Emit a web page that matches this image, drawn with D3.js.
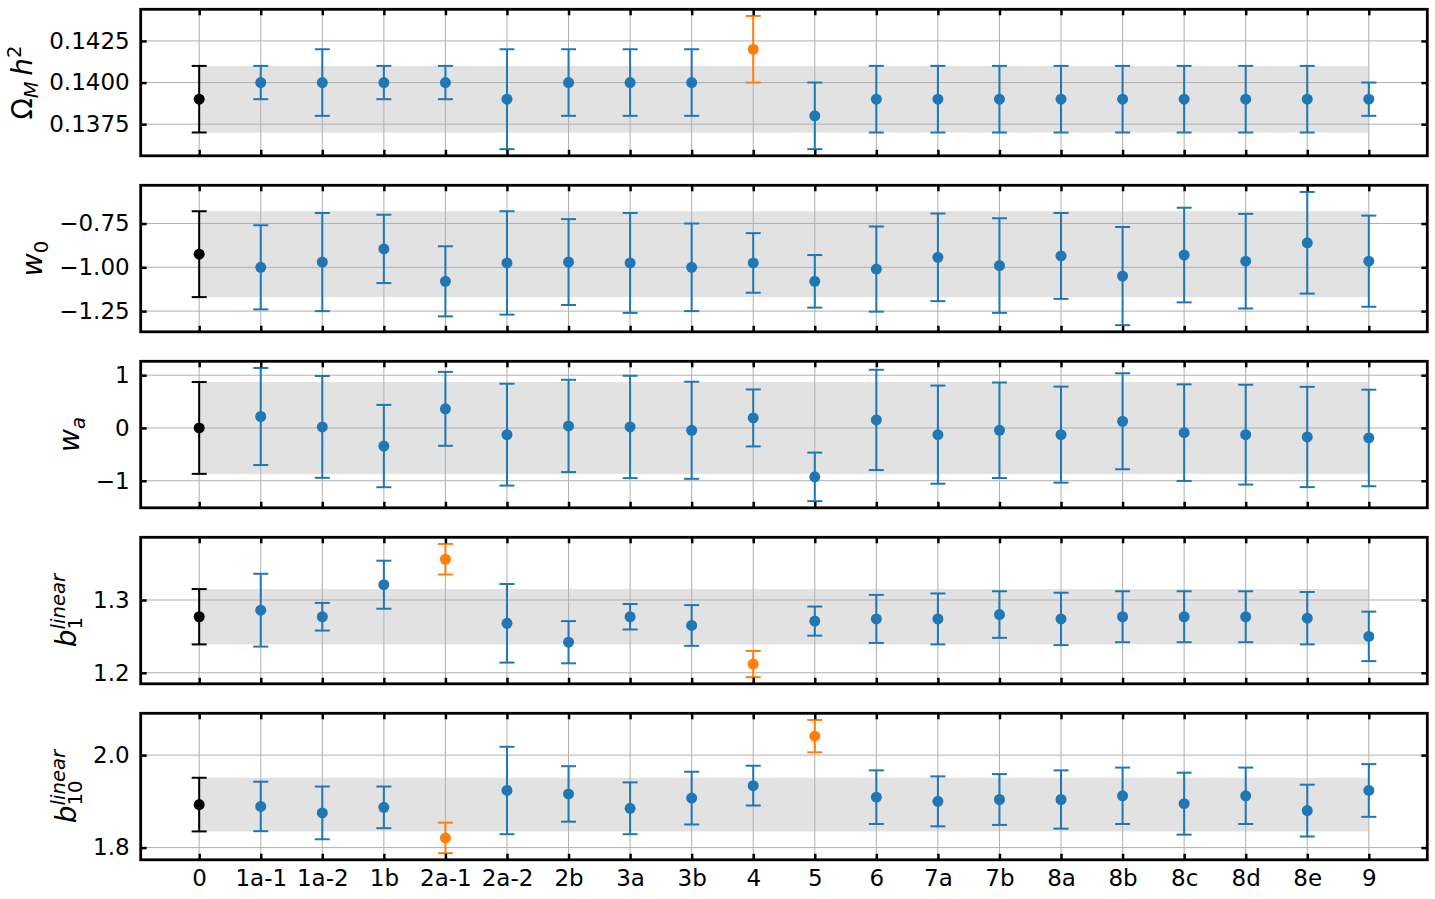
<!DOCTYPE html>
<html>
<head>
<meta charset="utf-8">
<script src="https://cdn.jsdelivr.net/npm/d3@7"></script>
<style>
  body { margin: 0; background: #fff; }
  svg { display: block; font-family: "DejaVu Sans", sans-serif; }
</style>
</head>
<body>
<svg id="chart" width="1435" height="899"></svg>
<script>
// categories along the x axis (shared by all panels)
const categories = ['0', '1a-1', '1a-2', '1b', '2a-1', '2a-2', '2b', '3a', '3b', '4',
  '5', '6', '7a', '7b', '8a', '8b', '8c', '8d', '8e', '9'];

// Omega_M h^2
const omegaValues = [0.139, 0.140, 0.140, 0.140, 0.140, 0.139, 0.140, 0.140, 0.140, 0.142,
  0.138, 0.139, 0.139, 0.139, 0.139, 0.139, 0.139, 0.139, 0.139, 0.139];
const omegaErrors = [0.002, 0.001, 0.002, 0.001, 0.001, 0.003, 0.002, 0.002, 0.002, 0.002,
  0.002, 0.002, 0.002, 0.002, 0.002, 0.002, 0.002, 0.002, 0.002, 0.001];
const omegaOutliers = ['4'];
const omegaTicks = [0.1375, 0.1400, 0.1425];

// w_0
const w0Values = [-0.925, -1.00, -0.97, -0.895, -1.08, -0.975, -0.97, -0.975, -1.00, -0.975,
  -1.08, -1.01, -0.943, -0.99, -0.935, -1.05, -0.93, -0.965, -0.86, -0.965];
const w0Errors = [0.245, 0.24, 0.28, 0.195, 0.20, 0.295, 0.245, 0.285, 0.25, 0.17,
  0.15, 0.243, 0.25, 0.27, 0.245, 0.28, 0.27, 0.27, 0.29, 0.26];
const w0Outliers = [];
const w0Ticks = [-1.25, -1.00, -0.75];

// w_a
const waValues = [0, 0.217, 0.02, -0.343, 0.362, -0.127, 0.038, 0.019, -0.044, 0.19,
  -0.927, 0.152, -0.127, -0.044, -0.127, 0.127, -0.089, -0.127, -0.171, -0.19];
const waErrors = [0.87, 0.92, 0.965, 0.78, 0.70, 0.965, 0.875, 0.97, 0.92, 0.54,
  0.46, 0.95, 0.93, 0.905, 0.91, 0.91, 0.915, 0.946, 0.95, 0.915];
const waOutliers = [];
const waTicks = [-1, 0, 1];

// b_1^linear
const b1Values = [1.277, 1.286, 1.277, 1.321, 1.356, 1.268, 1.242, 1.277, 1.265, 1.212,
  1.271, 1.274, 1.274, 1.280, 1.274, 1.277, 1.277, 1.277, 1.275, 1.250];
const b1Errors = [0.038, 0.05, 0.019, 0.033, 0.021, 0.054, 0.029, 0.0175, 0.028, 0.018,
  0.02, 0.033, 0.035, 0.032, 0.036, 0.035, 0.035, 0.035, 0.036, 0.034];
const b1Outliers = ['2a-1', '4'];
const b1Ticks = [1.2, 1.3];

// b_10^linear
const b10Values = [1.893, 1.889, 1.875, 1.887, 1.821, 1.9235, 1.916, 1.885, 1.907, 1.934,
  2.041, 1.909, 1.900, 1.904, 1.904, 1.912, 1.895, 1.912, 1.880, 1.9235];
const b10Errors = [0.058, 0.0535, 0.057, 0.045, 0.033, 0.0945, 0.06, 0.056, 0.057, 0.043,
  0.035, 0.058, 0.054, 0.055, 0.063, 0.061, 0.067, 0.061, 0.056, 0.057];
const b10Outliers = ['2a-1', '5'];
const b10Ticks = [1.8, 2.0];

// y labels (mathtext-like pieces)
const omegaLabel = [{ t: 'Ω' }, { t: 'M', sub: true, it: true }, { t: '\u2009' }, { t: 'h', it: true }, { t: '2', sup: true }];
const w0Label = [{ t: 'w', it: true }, { t: '0', sub: true }];
const waLabel = [{ t: 'w', it: true }, { t: 'a', sub: true, it: true }];
const b1Label = [{ t: 'b', it: true }, { t: '1', sub: true }, { t: 'linear', sup: true, it: true, stack: true }];
const b10Label = [{ t: 'b', it: true }, { t: '10', sub: true }, { t: 'linear', sup: true, it: true, stack: true }];

const panels = [
  { values: omegaValues, errors: omegaErrors, outliers: omegaOutliers, ticks: omegaTicks, fmt: '.4f', label: omegaLabel },
  { values: w0Values, errors: w0Errors, outliers: w0Outliers, ticks: w0Ticks, fmt: '.2f', label: w0Label },
  { values: waValues, errors: waErrors, outliers: waOutliers, ticks: waTicks, fmt: 'd', label: waLabel },
  { values: b1Values, errors: b1Errors, outliers: b1Outliers, ticks: b1Ticks, fmt: '.1f', label: b1Label },
  { values: b10Values, errors: b10Errors, outliers: b10Outliers, ticks: b10Ticks, fmt: '.1f', label: b10Label }
];

const BLUE = '#1f77b4', ORANGE = '#ff7f0e', REF = '#000000';

const svg = d3.select('#chart');
const left = 140.7, right = 1427.3;
const top0 = 9.3, panelH = 146.5, panelStep = 176;

const x = d3.scalePoint().domain(categories).range([left, right]).padding(0.95);
const first = categories[0], last = categories[categories.length - 1];

panels.forEach((p, i) => {
  const top = top0 + i * panelStep, bottom = top + panelH;

  // autoscale like matplotlib: data extent + 5% margins
  const lo = d3.min(p.values, (v, j) => v - p.errors[j]);
  const hi = d3.max(p.values, (v, j) => v + p.errors[j]);
  const m = (hi - lo) * 0.05;
  const y = d3.scaleLinear().domain([lo - m, hi + m]).range([bottom, top]);

  const g = svg.append('g').attr('class', 'panel');

  // reference band (value of first entry +- its error)
  g.append('rect')
    .attr('x', x(first))
    .attr('width', x(last) - x(first))
    .attr('y', y(p.values[0] + p.errors[0]))
    .attr('height', y(p.values[0] - p.errors[0]) - y(p.values[0] + p.errors[0]))
    .attr('fill', '#e2e2e2');

  // grid
  g.append('g').selectAll('line')
    .data(categories)
    .join('line')
    .attr('x1', d => x(d)).attr('x2', d => x(d))
    .attr('y1', top).attr('y2', bottom)
    .attr('stroke', '#b0b0b0').attr('stroke-width', 1);
  g.append('g').selectAll('line')
    .data(p.ticks)
    .join('line')
    .attr('x1', left).attr('x2', right)
    .attr('y1', d => y(d)).attr('y2', d => y(d))
    .attr('stroke', '#b0b0b0').attr('stroke-width', 1);

  // error bars
  const rows = p.values.map((v, j) => ({
    cat: categories[j], v, e: p.errors[j],
    color: j === 0 ? REF : (p.outliers.includes(categories[j]) ? ORANGE : BLUE)
  }));
  const bar = g.append('g').selectAll('g')
    .data(rows)
    .join('g');
  bar.append('line')
    .attr('x1', d => x(d.cat)).attr('x2', d => x(d.cat))
    .attr('y1', d => y(d.v + d.e)).attr('y2', d => y(d.v - d.e))
    .attr('stroke', d => d.color).attr('stroke-width', 2);
  [1, -1].forEach(s => {
    bar.append('line')
      .attr('x1', d => x(d.cat) - 7.5).attr('x2', d => x(d.cat) + 7.5)
      .attr('y1', d => y(d.v + s * d.e)).attr('y2', d => y(d.v + s * d.e))
      .attr('stroke', d => d.color).attr('stroke-width', 2);
  });
  bar.append('circle')
    .attr('cx', d => x(d.cat)).attr('cy', d => y(d.v))
    .attr('r', 5.5)
    .attr('fill', d => d.color);

  // axes, ticks pointing inward on all four sides
  const styleAxis = a => {
    a.select('.domain').remove();
    a.attr('font-size', 23).attr('font-family', '"DejaVu Sans", sans-serif');
    a.selectAll('.tick line').attr('stroke-width', 2.5);
    a.selectAll('.tick text').attr('fill', '#000');
  };
  const yAxis = g.append('g')
    .attr('transform', `translate(${left},0)`)
    .call(d3.axisLeft(y).tickValues(p.ticks).tickFormat(d3.format(p.fmt))
      .tickSizeInner(-6).tickSizeOuter(0).tickPadding(11))
    .call(styleAxis);
  g.append('g')
    .attr('transform', `translate(${right},0)`)
    .call(d3.axisRight(y).tickValues(p.ticks).tickFormat('').tickSizeInner(-6).tickSizeOuter(0))
    .call(styleAxis);
  g.append('g')
    .attr('transform', `translate(0,${top})`)
    .call(d3.axisTop(x).tickFormat('').tickSizeInner(-6).tickSizeOuter(0))
    .call(styleAxis);
  g.append('g')
    .attr('transform', `translate(0,${bottom})`)
    .call(d3.axisBottom(x).tickFormat(i === panels.length - 1 ? null : '')
      .tickSizeInner(-6).tickSizeOuter(0).tickPadding(10))
    .call(styleAxis);

  // spines
  g.append('rect')
    .attr('x', left).attr('y', top)
    .attr('width', right - left).attr('height', bottom - top)
    .attr('fill', 'none').attr('stroke', '#000').attr('stroke-width', 2.8);

  // y label, placed just left of the widest tick label
  let tickLeft = Infinity;
  yAxis.selectAll('.tick text').each(function() {
    tickLeft = Math.min(tickLeft, left + this.getBBox().x);
  });
  const lab = g.append('g');
  const text = lab.append('text')
    .attr('text-anchor', 'middle')
    .attr('font-size', 28)
    .attr('fill', '#000');
  let shift = 0, prev = null;
  p.label.forEach(part => {
    const target = part.sub ? 6 : part.sup ? -11 : 0;
    const ts = text.append('tspan')
      .text(part.t)
      .attr('dy', target - shift)
      .attr('font-size', part.sub || part.sup ? 19.6 : 28)
      .attr('font-style', part.it ? 'italic' : 'normal');
    if (part.stack && prev) ts.attr('dx', -prev.node().getComputedTextLength());
    shift = target;
    prev = ts;
  });
  const bb = text.node().getBBox();
  lab.attr('transform', `translate(${tickLeft - 6 - (bb.y + bb.height)},${(top + bottom) / 2}) rotate(-90)`);
});
</script>
</body>
</html>
